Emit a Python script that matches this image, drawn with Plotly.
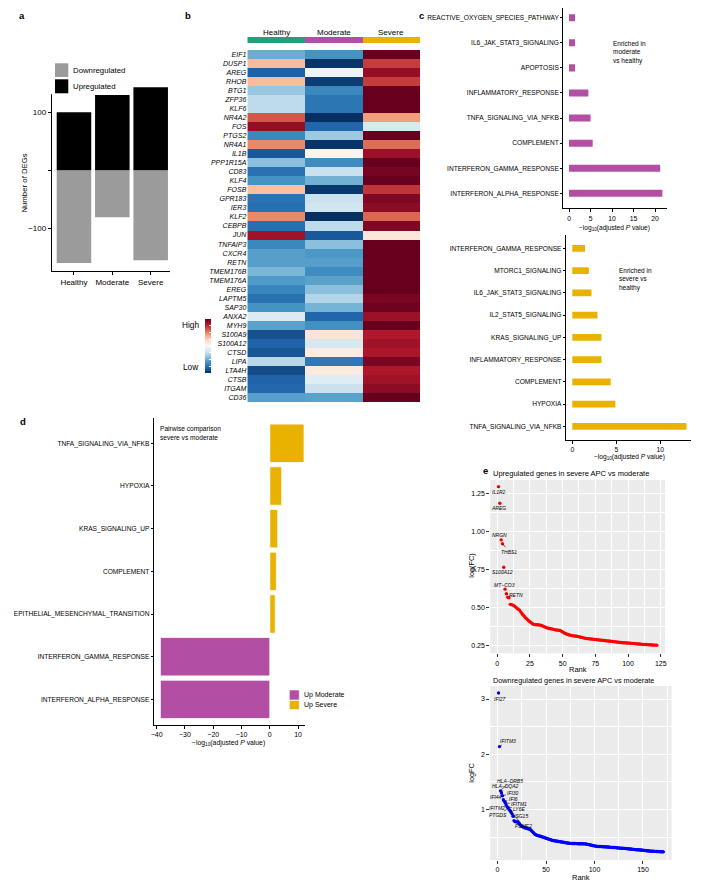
import plotly.graph_objects as go

# The page body has an 8px default margin, so the figure is drawn offset by 8px.
OFF = 8
W, H = 715 - OFF, 889 - OFF
def X(px): return (px - OFF) / W
def Y(py): return 1 - (py - OFF) / H
def clamp(v): return min(1.0, max(0.0, v))

FONT = "Liberation Sans, Arial, Helvetica, sans-serif"
PURPLE = "#B24FA4"
YELLOW = "#E9B100"
TEAL = "#22A07C"
GREY = "#9B9B9B"

# ---------------- data ----------------
deg_groups = ["Healthy", "Moderate", "Severe"]
deg_up = [100, 130, 143]
deg_down = [-160, -81, -155]

hm_genes = ["EIF1", "DUSP1", "AREG", "RHOB", "BTG1", "ZFP36", "KLF6", "NR4A2", "FOS", "PTGS2",
            "NR4A1", "IL1B", "PPP1R15A", "CD83", "KLF4", "FOSB", "GPR183", "IER3", "KLF2", "CEBPB",
            "JUN", "TNFAIP3", "CXCR4", "RETN", "TMEM176B", "TMEM176A", "EREG", "LAPTM5", "SAP30",
            "ANXA2", "MYH9", "S100A9", "S100A12", "CTSD", "LIPA", "LTA4H", "CTSB", "ITGAM", "CD36"]
hm_groups = ["Healthy", "Moderate", "Severe"]
hm_healthy = [-0.50, 0.32, -0.82, 0.32, -0.38, -0.26, -0.26, 0.62, 0.88, -0.65,
              0.48, -0.85, -0.42, -0.75, -0.60, 0.30, -0.74, -0.76, 0.48, -0.76,
              0.85, -0.65, -0.55, -0.55, -0.46, -0.57, -0.66, -0.75, -0.60,
              -0.14, -0.54, -0.88, -0.81, -0.86, -0.28, -0.90, -0.81, -0.79, -0.55]
hm_moderate = [-0.60, -0.98, -0.05, -0.95, -0.65, -0.73, -0.73, -1.00, -0.80, -0.37,
               -0.98, 0.02, -0.63, -0.22, -0.48, -0.97, -0.22, -0.20, -1.00, -0.26,
               -0.85, -0.42, -0.58, -0.55, -0.63, -0.54, -0.42, -0.30, -0.47,
               -0.80, -0.61, 0.14, -0.17, 0.08, -0.72, 0.10, -0.12, -0.22, -0.54]
hm_severe = [1.00, 0.70, 0.88, 0.70, 1.00, 1.00, 1.00, 0.42, -0.16, 1.00,
             0.56, 0.86, 1.00, 0.96, 1.00, 0.72, 0.94, 0.90, 0.58, 0.94,
             0.12, 1.00, 1.00, 1.00, 1.00, 1.00, 1.00, 0.95, 0.98,
             0.86, 1.00, 0.80, 0.85, 0.82, 0.95, 0.81, 0.85, 0.90, 1.00]

c1_terms = ["REACTIVE_OXYGEN_SPECIES_PATHWAY", "IL6_JAK_STAT3_SIGNALING", "APOPTOSIS",
            "INFLAMMATORY_RESPONSE", "TNFA_SIGNALING_VIA_NFKB", "COMPLEMENT",
            "INTERFERON_GAMMA_RESPONSE", "INTERFERON_ALPHA_RESPONSE"]
c1_values = [1.4, 1.4, 1.4, 4.5, 5.0, 5.5, 21.2, 21.7]

c2_terms = ["INTERFERON_GAMMA_RESPONSE", "MTORC1_SIGNALING", "IL6_JAK_STAT3_SIGNALING",
            "IL2_STAT5_SIGNALING", "KRAS_SIGNALING_UP", "INFLAMMATORY_RESPONSE",
            "COMPLEMENT", "HYPOXIA", "TNFA_SIGNALING_VIA_NFKB"]
c2_values = [1.44, 1.88, 2.18, 2.86, 3.31, 3.31, 4.36, 4.89, 12.97]

d_terms = ["TNFA_SIGNALING_VIA_NFKB", "HYPOXIA", "KRAS_SIGNALING_UP", "COMPLEMENT",
           "EPITHELIAL_MESENCHYMAL_TRANSITION", "INTERFERON_GAMMA_RESPONSE",
           "INTERFERON_ALPHA_RESPONSE"]
d_values = [12.1, 4.2, 2.8, 2.3, 1.9, -38.7, -38.7]
d_groups = ["Up Severe"] * 5 + ["Up Moderate"] * 2

e_up_values = [
    1.296, 1.187, 0.945, 0.920, 0.765, 0.620, 0.590, 0.567, 0.563, 0.520,
    0.518, 0.515, 0.510, 0.502, 0.495, 0.488, 0.482, 0.470, 0.458, 0.448,
    0.438, 0.428, 0.420, 0.412, 0.405, 0.398, 0.392, 0.388, 0.386, 0.385,
    0.385, 0.384, 0.383, 0.380, 0.376, 0.372, 0.368, 0.365, 0.363, 0.361,
    0.359, 0.357, 0.355, 0.353, 0.351, 0.350, 0.349, 0.347, 0.343, 0.338,
    0.333, 0.328, 0.324, 0.321, 0.318, 0.316, 0.314, 0.312, 0.311, 0.310,
    0.309, 0.307, 0.305, 0.303, 0.301, 0.299, 0.297, 0.295, 0.294, 0.293,
    0.292, 0.291, 0.290, 0.289, 0.288, 0.287, 0.286, 0.285, 0.284, 0.283,
    0.282, 0.281, 0.280, 0.279, 0.278, 0.277, 0.276, 0.275, 0.274, 0.273,
    0.272, 0.271, 0.270, 0.269, 0.268, 0.267, 0.267, 0.266, 0.265, 0.265,
    0.264, 0.263, 0.262, 0.262, 0.261, 0.260, 0.259, 0.258, 0.258, 0.257,
    0.256, 0.256, 0.255, 0.255, 0.254, 0.253, 0.253, 0.252, 0.252, 0.251,
    0.251, 0.250]
e_up_genes = ["IL1R2", "AREG", "NRGN", "THBS1", "S100A12", "MT\u2212CO3", "RETN"]
e_up_offsets = [(0, 5.5), (-1, 5), (-2, -5), (7, 8), (-1, 5), (-1, -4.5), (10, 1)]

e_down_values = [
    3.110, 2.140, 1.340, 1.300, 1.250, 1.180, 1.150, 1.120, 1.080, 1.050,
    1.030, 1.000, 0.980, 0.950, 0.920, 0.880, 0.800, 0.785, 0.780, 0.780,
    0.778, 0.760, 0.735, 0.712, 0.700, 0.690, 0.682, 0.673, 0.667, 0.662,
    0.657, 0.652, 0.646, 0.636, 0.620, 0.602, 0.583, 0.565, 0.552, 0.542,
    0.535, 0.530, 0.525, 0.520, 0.514, 0.508, 0.502, 0.496, 0.490, 0.484,
    0.478, 0.472, 0.466, 0.460, 0.454, 0.448, 0.443, 0.440, 0.437, 0.434,
    0.431, 0.428, 0.425, 0.422, 0.419, 0.416, 0.413, 0.410, 0.407, 0.404,
    0.401, 0.398, 0.395, 0.393, 0.391, 0.390, 0.389, 0.388, 0.387, 0.387,
    0.386, 0.386, 0.385, 0.385, 0.384, 0.384, 0.383, 0.383, 0.382, 0.381,
    0.380, 0.377, 0.373, 0.369, 0.365, 0.361, 0.357, 0.353, 0.349, 0.345,
    0.341, 0.339, 0.337, 0.335, 0.334, 0.333, 0.332, 0.331, 0.330, 0.329,
    0.328, 0.327, 0.326, 0.324, 0.322, 0.320, 0.319, 0.318, 0.317, 0.316,
    0.315, 0.313, 0.311, 0.309, 0.307, 0.305, 0.304, 0.303, 0.302, 0.301,
    0.300, 0.298, 0.296, 0.294, 0.292, 0.290, 0.288, 0.286, 0.284, 0.282,
    0.280, 0.278, 0.276, 0.275, 0.274, 0.273, 0.272, 0.270, 0.268, 0.266,
    0.264, 0.262, 0.260, 0.258, 0.256, 0.254, 0.252, 0.250, 0.249, 0.248,
    0.247, 0.246, 0.245, 0.244, 0.243, 0.242, 0.241, 0.240, 0.239, 0.238,
    0.237]
e_down_genes = ["IFI27", "IFITM3", "HLA\u2212DRB5", "HLA\u2212DQA2", "IFI30", "IFI44", "IFI6",
                "IFITM1", "IFITM2", "LY6E", "PTGDS", "ISG15", "PSME2"]
e_down_offsets = [(1, 6), (9, -6), (10, -10), (4, -7), (11, -3), (-7, -3), (9, -2),
                  (14, 1), (-9, 2.5), (12, 2), (-10, 7.5), (12, 6), (13, 15)]

# ---------------- figure ----------------
fig = go.Figure()

# panel a
fig.add_trace(go.Bar(x=deg_groups, y=deg_down, marker=dict(color=GREY, line=dict(width=0)),
                     width=0.9, xaxis="x", yaxis="y", name="Downregulated"))
fig.add_trace(go.Bar(x=deg_groups, y=deg_up, marker=dict(color="black", line=dict(width=0)),
                     width=0.9, xaxis="x", yaxis="y", name="Upregulated"))

# panel b heatmap
hm_z = [[h, m, s] for h, m, s in zip(hm_healthy, hm_moderate, hm_severe)]
rdbu = ["#053061", "#2166ac", "#4393c3", "#92c5de", "#d1e5f0", "#f7f7f7",
        "#fddbc7", "#f4a582", "#d6604d", "#b2182b", "#67001f"]
cs = [[i / 10, c] for i, c in enumerate(rdbu)]
fig.add_trace(go.Heatmap(z=hm_z, x=hm_groups, y=hm_genes, colorscale=cs, zmin=-1, zmax=1,
                         xaxis="x2", yaxis="y2",
                         colorbar=dict(x=X(203), xanchor="left", y=Y(346), yanchor="middle",
                                       len=54, lenmode="pixels", thickness=6, thicknessmode="pixels",
                                       outlinewidth=0, showticklabels=False, ticks="inside",
                                       tickcolor="white", ticklen=2, tickwidth=1,
                                       tickmode="array",
                                       tickvals=[-0.75, -0.5, -0.25, 0, 0.25, 0.5, 0.75],
                                       xpad=0, ypad=0)))
fig.add_trace(go.Heatmap(z=[[0, 1, 2]], x=hm_groups, y=["group"], zmin=0, zmax=2,
                         colorscale=[[0, TEAL], [0.333, TEAL], [0.334, PURPLE], [0.666, PURPLE],
                                     [0.667, YELLOW], [1, YELLOW]],
                         showscale=False, xaxis="x8", yaxis="y8"))

# panel c
fig.add_trace(go.Bar(y=c1_terms, x=c1_values, orientation="h", width=0.28,
                     marker=dict(color=PURPLE, line=dict(width=0)), xaxis="x3", yaxis="y3"))
fig.add_trace(go.Bar(y=c2_terms, x=c2_values, orientation="h", width=0.3,
                     marker=dict(color=YELLOW, line=dict(width=0)), xaxis="x4", yaxis="y4"))

# panel d
d_colors = [PURPLE if g == "Up Moderate" else YELLOW for g in d_groups]
fig.add_trace(go.Bar(y=d_terms, x=d_values, orientation="h", width=0.9,
                     marker=dict(color=d_colors, line=dict(color="white", width=0.8)),
                     xaxis="x5", yaxis="y5"))

# panel e
fig.add_trace(go.Scatter(x=list(range(1, len(e_up_values) + 1)), y=e_up_values, mode="markers",
                         marker=dict(color="#FF0000", size=3.4, line=dict(width=0)),
                         xaxis="x6", yaxis="y6"))
fig.add_trace(go.Scatter(x=list(range(1, len(e_down_values) + 1)), y=e_down_values, mode="markers",
                         marker=dict(color="#0000FF", size=3.4, line=dict(width=0)),
                         xaxis="x7", yaxis="y7"))

# ---------------- axes ----------------
def tf(s):
    return dict(family=FONT, size=s, color="black")

def dom_y(bottom_px, top_px):
    return [clamp(Y(bottom_px)), clamp(Y(top_px))]

def dom_x(left_px, right_px):
    return [clamp(X(left_px)), clamp(X(right_px))]

lineax = dict(showline=True, linecolor="black", linewidth=0.9, ticks="outside", ticklen=3,
              tickwidth=0.8, tickcolor="black", showgrid=False, zeroline=False)

# panel c top: first row centre at 17.7px, row spacing 25.1px; panel top clipped at 8px
c1_top_ext = (17.7 - OFF) / 25.1

layout = dict(
    width=W, height=H, margin=dict(l=0, r=0, t=0, b=0),
    paper_bgcolor="white", plot_bgcolor="white", showlegend=False,
    barmode="relative", font=dict(family=FONT, color="black"),
    xaxis=dict(domain=dom_x(49, 168), range=[-0.58, 2.5], anchor="y", tickfont=tf(8), **lineax),
    yaxis=dict(domain=dom_y(271, 80), range=[-173.6, 155.7], anchor="x", tickfont=tf(8),
               tickmode="array", tickvals=[-100, 0, 100], ticktext=["\u2212100", " ", "100"], **lineax),
    xaxis2=dict(domain=dom_x(246, 420), anchor="y2", showticklabels=False, ticks="",
                showgrid=False, zeroline=False, showline=False),
    yaxis2=dict(domain=dom_y(402, 50), anchor="x2", autorange="reversed", ticks="",
                tickfont=dict(family=FONT, size=7, color="black", style="italic"),
                showgrid=False, zeroline=False, showline=False, ticklabelstandoff=0),
    xaxis8=dict(domain=dom_x(246, 420), anchor="y8", showticklabels=False, ticks="",
                showgrid=False, zeroline=False),
    yaxis8=dict(domain=dom_y(43, 37), anchor="x8", showticklabels=False, ticks="",
                showgrid=False, zeroline=False),
    xaxis3=dict(domain=dom_x(564, 669), range=[-1.385, 22.85], anchor="y3",
                tickmode="array", tickvals=[0, 5, 10, 15, 20], tickfont=tf(6.8), **lineax),
    yaxis3=dict(domain=dom_y(208.4, OFF), anchor="x3", categoryorder="array",
                categoryarray=list(reversed(c1_terms)),
                range=[-0.6, len(c1_terms) - 1 + c1_top_ext],
                tickfont=tf(6.6), **{**lineax, "ticklen": 2}),
    xaxis4=dict(domain=dom_x(566.7, 693.3), range=[-0.744, 13.53], anchor="y4",
                tickmode="array", tickvals=[0, 5, 10], tickfont=tf(6.8), **lineax),
    yaxis4=dict(domain=dom_y(439.7, 235), anchor="x4", categoryorder="array",
                categoryarray=list(reversed(c2_terms)), range=[-0.6, len(c2_terms) - 0.4],
                tickfont=tf(6.6), **{**lineax, "ticklen": 2}),
    xaxis5=dict(domain=dom_x(151.7, 304), range=[-41.05, 12.4], anchor="y5",
                tickmode="array", tickvals=[-40, -30, -20, -10, 0, 10],
                ticktext=["\u221240", "\u221230", "\u221220", "\u221210", "0", "10"],
                tickfont=tf(7), **lineax),
    yaxis5=dict(domain=dom_y(725, 417.7), anchor="x5", categoryorder="array",
                categoryarray=list(reversed(d_terms)), range=[-0.6, len(d_terms) - 0.4],
                tickfont=tf(6.6), **{**lineax, "ticklen": 2}),
)

eax = dict(showline=False, ticks="outside", ticklen=3, tickwidth=0.8, tickcolor="#333333",
           showgrid=True, gridcolor="white", gridwidth=1, zeroline=False, tickfont=tf(7))
layout["xaxis6"] = dict(domain=dom_x(490.7, 666.7), range=[-5.3, 128.3], anchor="y6",
                        tickmode="array", tickvals=[0, 25, 50, 75, 100, 125],
                        minor=dict(showgrid=True, gridcolor="white", gridwidth=0.5,
                                   tickmode="array", tickvals=[12.5, 37.5, 62.5, 87.5, 112.5]), **eax)
layout["yaxis6"] = dict(domain=dom_y(653.3, 480), range=[0.197, 1.34], anchor="x6",
                        tickmode="array", tickvals=[0.25, 0.5, 0.75, 1.0, 1.25],
                        ticktext=["0.25", "0.50", "0.75", "1.00", "1.25"],
                        minor=dict(showgrid=True, gridcolor="white", gridwidth=0.5,
                                   tickmode="array", tickvals=[0.375, 0.625, 0.875, 1.125]), **eax)
layout["xaxis7"] = dict(domain=dom_x(490.7, 673.3), range=[-7.5, 179.5], anchor="y7",
                        tickmode="array", tickvals=[0, 50, 100, 150],
                        minor=dict(showgrid=True, gridcolor="white", gridwidth=0.5,
                                   tickmode="array", tickvals=[25, 75, 125, 175]), **eax)
layout["yaxis7"] = dict(domain=dom_y(860, 686), range=[0.09, 3.235], anchor="x7",
                        tickmode="array", tickvals=[1, 2, 3],
                        minor=dict(showgrid=True, gridcolor="white", gridwidth=0.5,
                                   tickmode="array", tickvals=[0.5, 1.5, 2.5]), **eax)

fig.update_layout(**layout)

# ---------------- shapes ----------------
shapes = []
for ax in ["6", "7"]:
    shapes.append(dict(type="rect", xref=f"x{ax} domain", yref=f"y{ax} domain", x0=0, x1=1, y0=0, y1=1,
                       fillcolor="#EBEBEB", line=dict(width=0), layer="below"))
# legend a (white background + swatches)
shapes.append(dict(type="rect", xref="paper", yref="paper", x0=X(44), x1=X(114), y0=Y(94.3), y1=Y(58),
                   fillcolor="white", line=dict(width=0), layer="above"))
shapes.append(dict(type="rect", xref="paper", yref="paper", x0=X(52.3), x1=X(65.7), y0=Y(77), y1=Y(63.3),
                   fillcolor=GREY, line=dict(width=0), layer="above"))
shapes.append(dict(type="rect", xref="paper", yref="paper", x0=X(52.3), x1=X(65.7), y0=Y(93.3), y1=Y(79.3),
                   fillcolor="black", line=dict(width=0), layer="above"))
# legend d
shapes.append(dict(type="rect", xref="paper", yref="paper", x0=X(288.3), x1=X(298.3), y0=Y(700), y1=Y(690),
                   fillcolor=PURPLE, line=dict(color="white", width=0.6), layer="above"))
shapes.append(dict(type="rect", xref="paper", yref="paper", x0=X(288.3), x1=X(298.3), y0=Y(709.5), y1=Y(700.5),
                   fillcolor=YELLOW, line=dict(color="white", width=0.6), layer="above"))
fig.update_layout(shapes=shapes)

# ---------------- annotations ----------------
ann = []
def text(px, py, s, size=7, xanchor="left", yanchor="middle", **kw):
    ann.append(dict(x=X(px), y=Y(py), xref="paper", yref="paper", text=s, showarrow=False,
                    xanchor=xanchor, yanchor=yanchor, font=dict(family=FONT, size=size, color="black"),
                    **kw))

# panel letters (top row letters sit at the very top edge of the figure)
for lab, px in [("a", 19.5), ("b", 186.5), ("c", 421.5)]:
    text(px, OFF, f"<b>{lab}</b>", size=9.5, xanchor="center", yanchor="top")
text(20, 421.5, "<b>d</b>", size=9.5, xanchor="center")
text(486, 470, "<b>e</b>", size=9.5, xanchor="center")

# panel a
text(68.3, 70.3, "Downregulated", size=7.8)
text(68.3, 86.5, "Upregulated", size=7.8)
text(21.7, 183, "Number of DEGs", size=7.8, xanchor="center", textangle=-90)

# panel b
for g in hm_groups:
    ann.append(dict(x=g, y=Y(32), xref="x8", yref="paper", text=g, showarrow=False,
                    xanchor="center", yanchor="middle", font=dict(family=FONT, size=8, color="black")))
text(199, 325, "High", size=8.3, xanchor="right")
text(199, 367, "Low", size=8.3, xanchor="right")

# panel c
xlab = "\u2212log<sub>10</sub>(adjusted <i>P</i> value)"
text(616, 228, xlab, size=6.6, xanchor="center")
text(630.7, 456.7, xlab, size=6.6, xanchor="center")
text(612.5, 52, "Enriched in<br>moderate<br>vs healthy", size=6.5, align="left")
text(618, 279.5, "Enriched in<br>severe vs<br>healthy", size=6.5, align="left")

# panel d
text(226.7, 743, xlab, size=6.8, xanchor="center")
text(156.5, 432.5, "Pairwise comparison<br>severe vs moderate", size=6.6, align="left")
text(300.7, 695, "Up Moderate", size=7)
text(300.7, 705, "Up Severe", size=7)

# panel e
text(491, 473.3, "Upregulated genes in severe APC vs moderate", size=7.5)
text(491, 680.5, "Downregulated genes in severe APC vs moderate", size=7.3)
text(578.7, 669.5, "Rank", size=7.5, xanchor="center")
text(581.7, 877.3, "Rank", size=7.5, xanchor="center")
text(471, 566, "log(FC)", size=7.3, xanchor="center", textangle=-90)
text(471, 773, "logFC", size=7.3, xanchor="center", textangle=-90)

lab_font = dict(family=FONT, size=5, color="black", style="italic")
for i, (g, (dx, dy)) in enumerate(zip(e_up_genes, e_up_offsets)):
    ann.append(dict(x=i + 1, y=e_up_values[i], xref="x6", yref="y6", text=g, showarrow=True,
                    ax=dx, ay=dy, arrowhead=0, arrowwidth=0.6, arrowcolor="black",
                    standoff=0, startstandoff=0, font=lab_font))
for i, (g, (dx, dy)) in enumerate(zip(e_down_genes, e_down_offsets)):
    ann.append(dict(x=i + 1, y=e_down_values[i], xref="x7", yref="y7", text=g, showarrow=True,
                    ax=dx, ay=dy, arrowhead=0, arrowwidth=0.6, arrowcolor="black",
                    standoff=0, startstandoff=0, font=lab_font))

fig.update_layout(annotations=ann)
fig.write_html("out.html")
